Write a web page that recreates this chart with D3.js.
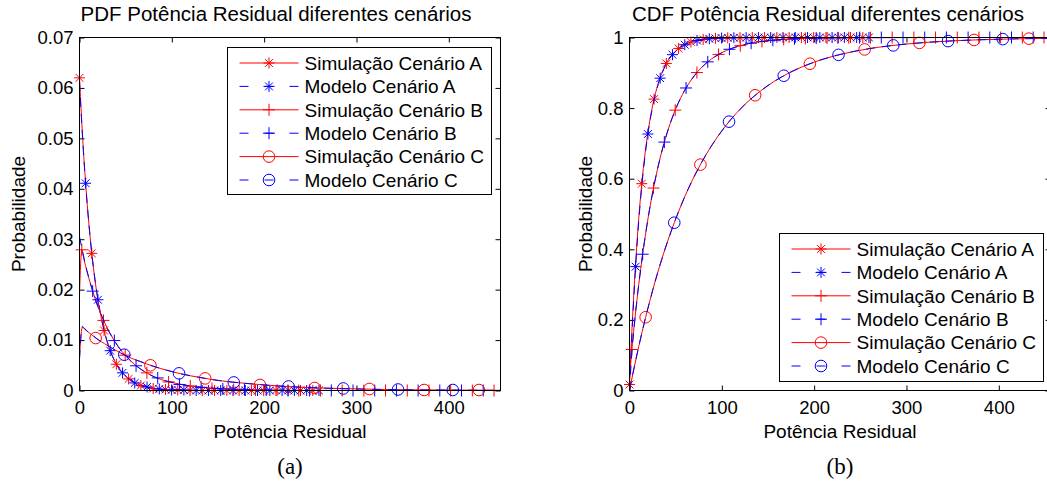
<!DOCTYPE html>
<html>
<head>
<meta charset="utf-8">
<script src="https://cdn.jsdelivr.net/npm/d3@7"></script>
<style>
  html, body { margin: 0; padding: 0; background: #fff; }
  svg { display: block; }
  text { font-family: "Liberation Sans", Arial, Helvetica, sans-serif; fill: #000; }
</style>
</head>
<body>
<svg id="fig" width="1047" height="488"></svg>
<script>
// ---------- data ----------
const xMax = 456;
const xTickValues = [0, 100, 200, 300, 400];
const xTickLabels = ['0', '100', '200', '300', '400'];
const pdfTickValues = [0, 0.01, 0.02, 0.03, 0.04, 0.05, 0.06, 0.07];
const pdfTickLabels = ['0', '0.01', '0.02', '0.03', '0.04', '0.05', '0.06', '0.07'];
const cdfTickValues = [0, 0.2, 0.4, 0.6, 0.8, 1];
const cdfTickLabels = ['0', '0.2', '0.4', '0.6', '0.8', '1'];
const legendLabels = ['Simulação Cenário A', 'Modelo Cenário A', 'Simulação Cenário B',
                      'Modelo Cenário B', 'Simulação Cenário C', 'Modelo Cenário C'];
const titles = ['PDF Potência Residual diferentes cenários', 'CDF Potência Residual diferentes cenários'];
const xLabel = 'Potência Residual';
const yLabel = 'Probabilidade';
const captions = ['(a)', '(b)'];

// curve grids (Potência Residual)
const gridA = [0, 2, 4, 7, 10, 14, 18, 23, 28, 34, 40, 47, 55, 65, 75, 90, 110, 140, 180, 250, 350, 456];
const gridB = [0, 2.5, 5, 8, 12, 16, 20, 25, 30, 36, 42, 50, 60, 70, 85, 100, 120, 150, 190, 250, 330, 456];
const gridCpdf = [0, 3, 6, 10, 15, 20, 27, 35, 45, 55, 65, 80, 95, 110, 130, 150, 175, 200, 240, 280, 330, 390, 456];
const gridCcdf = [0, 5, 10, 17.5, 25, 35, 48.5, 60, 76, 90, 108, 125, 150, 175, 200, 230, 260, 300, 350, 400, 456];

// PDF curves
const pdfSimA = [0.0620, 0.0548, 0.0484, 0.0402, 0.0334, 0.0260, 0.0203, 0.0149, 0.0109, 0.0075, 0.0052, 0.0034, 0.0021, 0.0011, 0.0006, 0.0002, 0.0001, 0.00001, 0, 0, 0, 0];
const pdfModA = [0.0612, 0.0543, 0.0481, 0.0401, 0.0334, 0.0261, 0.0204, 0.0150, 0.0110, 0.0076, 0.0052, 0.0034, 0.0021, 0.0011, 0.0006, 0.0002, 0.0001, 0, 0, 0, 0, 0];
const pdfSimB = [0.0190, 0.0279, 0.0259, 0.0237, 0.0211, 0.0187, 0.0166, 0.0144, 0.0124, 0.0104, 0.0087, 0.0069, 0.0051, 0.0038, 0.0024, 0.0016, 0.0009, 0.0004, 0.0001, 0.00002, 0, 0];
const pdfModB = [0.0305, 0.0283, 0.0261, 0.0238, 0.0211, 0.0187, 0.0166, 0.0144, 0.0124, 0.0104, 0.0087, 0.0069, 0.0051, 0.0038, 0.0024, 0.0016, 0.0009, 0.0004, 0.0001, 0.00002, 0, 0];
const pdfSimC = [0.0065, 0.0125, 0.0121, 0.0115, 0.0108, 0.0101, 0.0093, 0.0084, 0.0074, 0.0065, 0.0058, 0.0048, 0.0040, 0.0033, 0.0026, 0.0020, 0.0015, 0.0011, 0.00065, 0.0004, 0.0002, 0.0001, 0.00004];
const pdfModC = [0.0062, 0.0127, 0.0122, 0.0115, 0.0108, 0.0101, 0.0093, 0.0084, 0.0074, 0.0065, 0.0058, 0.0048, 0.0040, 0.0033, 0.0026, 0.0020, 0.0015, 0.0011, 0.00065, 0.0004, 0.0002, 0.0001, 0.00004];

// CDF curves
const cdfSimA = [0.017, 0.1368, 0.242, 0.3764, 0.4869, 0.6043, 0.6949, 0.7795, 0.8407, 0.8922, 0.927, 0.9537, 0.9725, 0.9856, 0.9925, 0.9972, 0.9992, 0.9999, 1, 1, 1, 1];
const cdfModA = [0, 0.1219, 0.2289, 0.3656, 0.478, 0.5975, 0.6896, 0.7757, 0.838, 0.8903, 0.9257, 0.9529, 0.972, 0.9854, 0.9924, 0.9971, 0.9992, 0.9999, 1, 1, 1, 1];
const cdfSimB = [0.03, 0.1162, 0.1821, 0.2547, 0.3416, 0.4184, 0.4863, 0.56, 0.6232, 0.6871, 0.7402, 0.7973, 0.8513, 0.8909, 0.9315, 0.957, 0.9769, 0.9909, 0.9974, 0.9996, 1, 1];
const cdfModB = [0, 0.105, 0.178, 0.2547, 0.3416, 0.4184, 0.4863, 0.56, 0.6232, 0.6871, 0.7402, 0.7973, 0.8513, 0.8909, 0.9315, 0.957, 0.9769, 0.9909, 0.9974, 0.9996, 1, 1];
const cdfSimC = [0, 0.0643, 0.1245, 0.2076, 0.2829, 0.3722, 0.4753, 0.5498, 0.6361, 0.6979, 0.7622, 0.8103, 0.864, 0.9025, 0.9301, 0.9531, 0.9685, 0.9815, 0.9905, 0.9951, 0.9977];
const cdfModC = [0, 0.0643, 0.1245, 0.2076, 0.2829, 0.3722, 0.4753, 0.5498, 0.6361, 0.6979, 0.7622, 0.8103, 0.864, 0.9025, 0.9301, 0.9531, 0.9685, 0.9815, 0.9905, 0.9951, 0.9977];

// marker positions
const mkSimA = [0, 13.3, 26.6, 39.9, 53.2, 66.5, 79.8, 93.1, 106.4, 119.7, 133, 146.3, 159.6, 172.9, 186.2, 199.5, 212.8, 226.1, 239.4, 252.7];
const mkModA = [6.65, 19.95, 33.25, 46.55, 59.85, 73.15, 86.45, 99.75, 113.05, 126.35, 139.65, 152.95, 166.25, 179.55, 192.85, 206.15, 219.45, 232.75, 246.05, 259.35];
const mkSimB = [2.5, 26, 49.5, 73, 96.5, 120, 143.5, 167, 190.5, 214, 237.5, 261, 284.5, 308, 331.5, 355, 378.5, 402, 425.5, 449];
const mkModB = [14.25, 37.75, 61.25, 84.75, 108.25, 131.75, 155.25, 178.75, 202.25, 225.75, 249.25, 272.75, 296.25, 319.75, 343.25, 366.75, 390.25, 413.75, 437.25];
const mkSimC = [17.5, 76.8, 136.1, 195.4, 254.7, 314, 373.3, 432.6];
const mkModC = [48.5, 107.8, 167.1, 226.4, 285.7, 345, 404.3];

// marker values, PDF
const pdfMkSimA = [0.0620, 0.0272, 0.0119, 0.0052, 0.0023, 0.0010, 0.0004, 0.0002, 0.0001, 0, 0, 0, 0, 0, 0, 0, 0, 0, 0, 0];
const pdfMkModA = [0.0411, 0.0180, 0.0079, 0.0035, 0.0015, 0.0007, 0.0003, 0.0001, 0.0001, 0, 0, 0, 0, 0, 0, 0, 0, 0, 0, 0];
const pdfMkSimB = [0.0279, 0.0139, 0.0070, 0.0035, 0.0017, 0.0009, 0.0004, 0.0002, 0.0001, 0.00005, 0, 0, 0, 0, 0, 0, 0, 0, 0, 0];
const pdfMkModB = [0.0197, 0.0099, 0.0049, 0.0025, 0.0012, 0.0006, 0.0003, 0.00015, 0.0001, 0, 0, 0, 0, 0, 0, 0, 0, 0, 0];
const pdfMkSimC = [0.0104, 0.0050, 0.0024, 0.0011, 0.0005, 0.0003, 0.0001, 0.0001];
const pdfMkModC = [0.0071, 0.0034, 0.0016, 0.0008, 0.0004, 0.0002, 0.0001];

// marker values, CDF
const cdfMkSimA = [0.017, 0.5859, 0.8255, 0.9265, 0.9690, 0.9870, 0.9945, 0.9977, 0.9990, 0.9996, 0.9998, 0.9999, 1, 1, 1, 1, 1, 1, 1, 1];
const cdfMkModA = [0.3509, 0.7265, 0.8848, 0.9514, 0.9795, 0.9914, 0.9964, 0.9985, 0.9994, 0.9997, 0.9999, 1, 1, 1, 1, 1, 1, 1, 1, 1];
const cdfMkSimB = [0.1162, 0.5735, 0.7942, 0.9007, 0.9521, 0.9769, 0.9888, 0.9946, 0.9974, 0.9987, 0.9994, 0.9997, 0.9999, 0.9999, 1, 1, 1, 1, 1, 1];
const cdfMkModB = [0.386, 0.7037, 0.857, 0.931, 0.9667, 0.9839, 0.9922, 0.9963, 0.9982, 0.9991, 0.9996, 0.9998, 0.9999, 1, 1, 1, 1, 1, 1];
const cdfMkSimC = [0.2076, 0.6399, 0.8364, 0.9257, 0.9662, 0.9847, 0.9930, 0.9968];
const cdfMkModC = [0.4753, 0.7616, 0.8917, 0.9508, 0.9776, 0.9898, 0.9954];

// ---------- styles ----------
const RED = '#ff0000', BLUE = '#0000ff';
const styles = [
  { color: RED,  dash: null,  marker: 'star' },
  { color: BLUE, dash: '9,7', marker: 'star' },
  { color: RED,  dash: null,  marker: 'plus' },
  { color: BLUE, dash: '9,7', marker: 'plus' },
  { color: RED,  dash: null,  marker: 'circle' },
  { color: BLUE, dash: '9,7', marker: 'circle' }
];

const zip = (xs, ys) => xs.map((x, i) => [x, ys[i]]);

const pdfSeries = [
  { line: zip(gridA, pdfSimA), marks: zip(mkSimA, pdfMkSimA) },
  { line: zip(gridA, pdfModA), marks: zip(mkModA, pdfMkModA) },
  { line: zip(gridB, pdfSimB), marks: zip(mkSimB, pdfMkSimB) },
  { line: zip(gridB, pdfModB), marks: zip(mkModB, pdfMkModB) },
  { line: zip(gridCpdf, pdfSimC), marks: zip(mkSimC, pdfMkSimC) },
  { line: zip(gridCpdf, pdfModC), marks: zip(mkModC, pdfMkModC) }
];
const cdfSeries = [
  { line: zip(gridA, cdfSimA), marks: zip(mkSimA, cdfMkSimA) },
  { line: zip(gridA, cdfModA), marks: zip(mkModA, cdfMkModA) },
  { line: zip(gridB, cdfSimB), marks: zip(mkSimB, cdfMkSimB) },
  { line: zip(gridB, cdfModB), marks: zip(mkModB, cdfMkModB) },
  { line: zip(gridCcdf, cdfSimC), marks: zip(mkSimC, cdfMkSimC) },
  { line: zip(gridCcdf, cdfModC), marks: zip(mkModC, cdfMkModC) }
];

// ---------- drawing ----------
const svg = d3.select('#fig');
const TICK_FS = 18.5, LABEL_FS = 19, TITLE_FS = 20.5;

function markerPath(type) {
  if (type === 'plus') return 'M-6,0H6M0,-6V6';
  if (type === 'star') return 'M-5.5,0H5.5M0,-5.5V5.5M-3.9,-3.9L3.9,3.9M-3.9,3.9L3.9,-3.9';
  return null;
}

function drawMarker(g, type, cx, cy, color) {
  if (type === 'circle') {
    g.append('circle').attr('cx', cx).attr('cy', cy).attr('r', 5.8)
      .attr('fill', 'none').attr('stroke', color).attr('stroke-width', 1);
  } else {
    g.append('path').attr('d', markerPath(type))
      .attr('transform', `translate(${cx},${cy})`)
      .attr('fill', 'none').attr('stroke', color).attr('stroke-width', 1);
  }
}

function styleAxis(sel) {
  sel.select('.domain').remove();
  sel.attr('font-size', null).attr('font-family', null);
  sel.selectAll('line').attr('stroke', '#000');
  sel.selectAll('text').style('font-size', TICK_FS + 'px');
}

function drawPanel(cfg) {
  const g = svg.append('g');
  const x = d3.scaleLinear().domain([0, xMax]).range([cfg.left, cfg.left + cfg.width]);
  const y = d3.scaleLinear().domain(cfg.yDomain).range([cfg.bottom, cfg.top]);

  // axes with inward ticks on all four sides
  g.append('g').attr('transform', `translate(0,${cfg.bottom})`)
    .call(d3.axisBottom(x).tickValues(xTickValues).tickFormat((d, i) => xTickLabels[i])
      .tickSizeInner(-5).tickSizeOuter(0).tickPadding(10))
    .call(styleAxis);
  g.append('g').attr('transform', `translate(0,${cfg.top})`)
    .call(d3.axisTop(x).tickValues(xTickValues).tickFormat('').tickSizeInner(-5).tickSizeOuter(0))
    .call(styleAxis);
  g.append('g').attr('transform', `translate(${cfg.left},0)`)
    .call(d3.axisLeft(y).tickValues(cfg.yTicks).tickFormat((d, i) => cfg.yLabels[i])
      .tickSizeInner(-5).tickSizeOuter(0).tickPadding(6))
    .call(styleAxis);
  g.append('g').attr('transform', `translate(${cfg.left + cfg.width},0)`)
    .call(d3.axisRight(y).tickValues(cfg.yTicks).tickFormat('').tickSizeInner(-5).tickSizeOuter(0))
    .call(styleAxis);

  // curves and markers, drawn series by series
  const line = d3.line().x(d => x(d[0])).y(d => y(d[1])).curve(d3.curveMonotoneX);
  cfg.series.forEach((s, i) => {
    const st = styles[i];
    g.append('path').datum(s.line).attr('d', line)
      .attr('fill', 'none').attr('stroke', st.color).attr('stroke-width', 1)
      .attr('stroke-dasharray', st.dash);
    const mg = g.append('g');
    s.marks.forEach(m => drawMarker(mg, st.marker, x(m[0]), y(m[1]), st.color));
  });

  // axes box
  g.append('rect').attr('x', cfg.left).attr('y', cfg.top)
    .attr('width', cfg.width).attr('height', cfg.bottom - cfg.top)
    .attr('fill', 'none').attr('stroke', '#000').attr('stroke-width', 1);

  // title and axis labels
  g.append('text').attr('x', cfg.titleX).attr('y', 21).attr('text-anchor', 'middle')
    .style('font-size', TITLE_FS + 'px').text(cfg.title);
  g.append('text').attr('x', cfg.xLabelX).attr('y', 438).attr('text-anchor', 'middle')
    .style('font-size', LABEL_FS + 'px').text(xLabel);
  g.append('text').attr('transform', `translate(${cfg.yLabelX},214) rotate(-90)`)
    .attr('text-anchor', 'middle').style('font-size', LABEL_FS + 'px').text(yLabel);
  g.append('text').attr('x', cfg.xLabelX).attr('y', 474).attr('text-anchor', 'middle')
    .style('font-family', '"Liberation Serif", "DejaVu Serif", serif')
    .style('font-size', '23px').text(cfg.caption);

  // legend
  const L = cfg.legend;
  const lg = g.append('g');
  lg.append('rect').attr('x', L.x).attr('y', L.y).attr('width', L.w).attr('height', L.h)
    .attr('fill', '#fff').attr('stroke', '#000').attr('stroke-width', 1);
  legendLabels.forEach((lab, i) => {
    const st = styles[i];
    const ry = L.y + 15.5 + i * 23.4;
    lg.append('line').attr('x1', L.x + 12).attr('x2', L.x + 71).attr('y1', ry).attr('y2', ry)
      .attr('stroke', st.color).attr('stroke-width', 1)
      .attr('stroke-dasharray', st.dash ? '9,16' : null);
    drawMarker(lg, st.marker, L.x + 41.5, ry, st.color);
    lg.append('text').attr('x', L.x + 77).attr('y', ry + 6.8)
      .style('font-size', LABEL_FS + 'px').text(lab);
  });
}

drawPanel({
  left: 79.5, width: 421, top: 37.5, bottom: 390.5,
  yDomain: [0, 0.07], yTicks: pdfTickValues, yLabels: pdfTickLabels,
  series: pdfSeries, title: titles[0], titleX: 276, xLabelX: 290, yLabelX: 25,
  caption: captions[0],
  legend: { x: 227.5, y: 47.5, w: 264, h: 147 }
});
drawPanel({
  left: 629.5, width: 421, top: 37.5, bottom: 390.5,
  yDomain: [0, 1], yTicks: cdfTickValues, yLabels: cdfTickLabels,
  series: cdfSeries, title: titles[1], titleX: 828, xLabelX: 840, yLabelX: 592,
  caption: captions[1],
  legend: { x: 779.5, y: 233.5, w: 264, h: 148 }
});
</script>
</body>
</html>
